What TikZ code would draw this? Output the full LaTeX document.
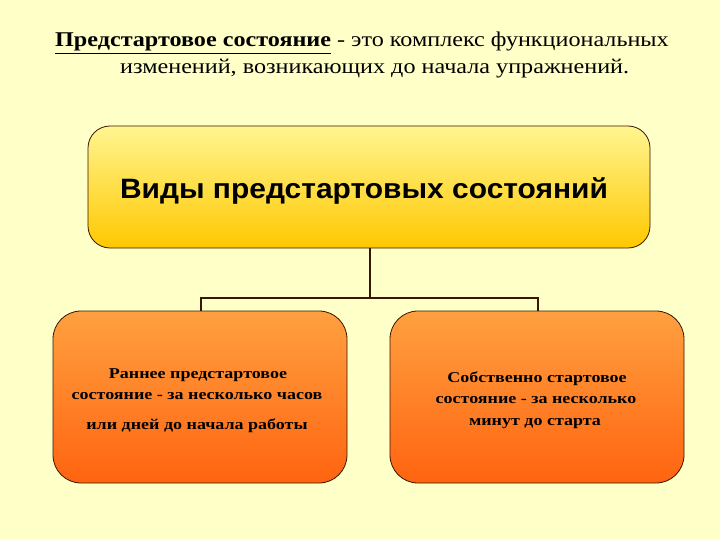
\documentclass[tikz,border=0pt]{standalone}
\usepackage{fontspec}
\setmainfont{Liberation Serif}
\newfontfamily\titlef[FakeStretch=1.15]{Liberation Serif}
\newfontfamily\subf[FakeStretch=1.2]{Liberation Serif}
\newfontfamily\arialf[FakeStretch=1.07]{Liberation Sans}
\definecolor{bgc}{HTML}{FFFFC8}
\definecolor{linec}{HTML}{3A1500}
\definecolor{ytop}{HTML}{FFF590}
\definecolor{ybot}{HTML}{FFC800}
\definecolor{otop}{HTML}{FFA040}
\definecolor{obot}{HTML}{FF6410}
\tikzset{
  headbox/.style={draw=linec, line width=0.8pt, rounded corners=22pt, top color=ytop, bottom color=ybot, minimum width=562pt, minimum height=122pt, inner sep=0pt},
  subbox/.style={draw=linec, line width=0.8pt, rounded corners=28pt, top color=otop, bottom color=obot, minimum width=294pt, minimum height=172pt, inner sep=0pt},
  conn/.style={draw=linec, line width=1.8pt},
  subtext/.style={font=\subf\fontsize{15}{21}\selectfont\bfseries, align=center, text=black, anchor=base, inner sep=0pt},
  titletext/.style={font=\titlef\fontsize{21}{24}\selectfont, anchor=base west, inner sep=0pt}
}
\begin{document}
\begin{tikzpicture}[x=1pt,y=-1pt]
\fill[bgc] (0,0) rectangle (720,540);
\useasboundingbox (0,0) rectangle (720,540);
\node[titletext] (t1) at (55,47) {\textbf{\underline{Предстартовое состояние}} - это комплекс функциональных};
\node[titletext] (t2) at (120,74) {изменений, возникающих до начала упражнений.};
\node[headbox] (head) at (369,187) {};
\node[font=\arialf\fontsize{28}{32}\selectfont\bfseries, anchor=base, inner sep=0pt] (headt) at (364,199) {Виды предстартовых состояний};
\node[subbox] (left) at (200,397) {};
\node[subbox] (right) at (537,397) {};
\node[subtext] (lt1) at (198,378) {Раннее предстартовое};
\node[subtext] (lt2) at (197,399) {состояние - за несколько часов};
\node[subtext] (lt3) at (197,429) {или дней до начала работы};
\node[subtext] (rt1) at (537,382) {Собственно стартовое};
\node[subtext] (rt2) at (536,403) {состояние - за несколько};
\node[subtext] (rt3) at (535,425) {минут до старта};
\coordinate (j) at (370,298);
\draw[conn] (370,0 |- head.south) -- (j);
\draw[conn] (left.north -| 201,0) |- (j) -| (right.north -| 538,0);
\end{tikzpicture}
\end{document}
